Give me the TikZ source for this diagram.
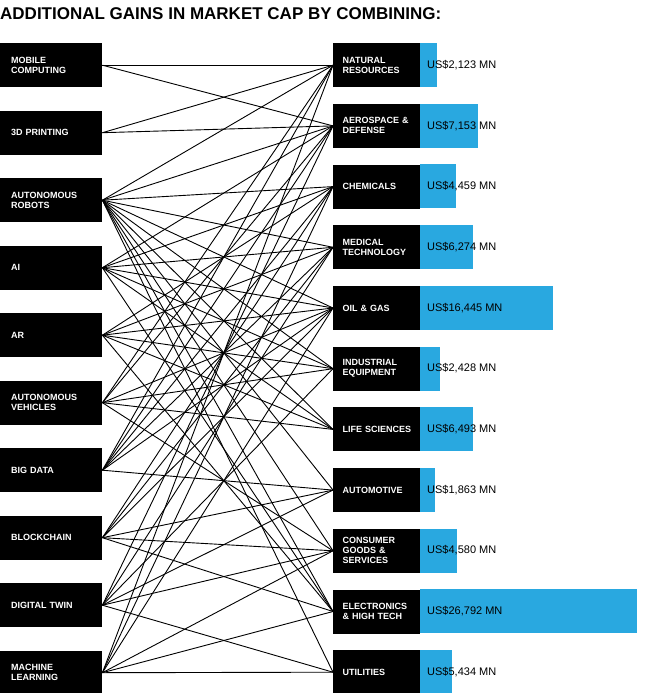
\documentclass[tikz,border=0pt]{standalone}
\usepackage{fontspec}
\setmainfont{Liberation Sans}
\definecolor{barblue}{HTML}{29A8E0}
\begin{document}
\begin{tikzpicture}[x=1pt,y=-1pt,
  lbox/.style={fill=black,text=white,minimum width=102pt,minimum height=44pt,inner sep=0pt,anchor=north west,align=left,text width=92pt,font=\bfseries\fontsize{9}{10}\selectfont},
  rbox/.style={fill=black,text=white,minimum width=87pt,minimum height=44pt,inner sep=0pt,anchor=north west,align=left,text width=80pt,font=\bfseries\fontsize{9}{10}\selectfont},
  bar/.style={fill=barblue,draw=none},
  val/.style={anchor=west,font=\fontsize{11}{12}\selectfont,inner sep=0pt},
  link/.style={line width=0.9pt,black}]
\useasboundingbox (0,0) rectangle (645,693);
\node[anchor=north west,inner sep=0pt,font=\bfseries\fontsize{17}{18}\selectfont] (title) at (0,7) {ADDITIONAL GAINS IN MARKET CAP BY COMBINING:};
% left boxes
\foreach \n/\t [count=\i from 0] in {mob/MOBILE\\COMPUTING,tdp/3D PRINTING,rob/AUTONOMOUS\\ROBOTS,ai/AI,ar/AR/VR,av/AUTONOMOUS\\VEHICLES,bd/BIG DATA,bc/BLOCKCHAIN,dt/DIGITAL TWIN,ml/MACHINE\\LEARNING}{
  \node[lbox] (\n) at (0,{43+67.5*\i}) {\hspace*{6pt}\parbox{86pt}{\t}};
}
% right boxes with bars
\foreach \n/\t/\e/\v [count=\i from 0] in {nr/NATURAL\\RESOURCES/437/2{,}123,ad/AEROSPACE \&\\DEFENSE/478/7{,}153,ch/CHEMICALS/456/4{,}459,md/MEDICAL\\TECHNOLOGY/473/6{,}274,og/OIL \& GAS/553/16{,}445,ie/INDUSTRIAL\\EQUIPMENT/440/2{,}428,ls/LIFE SCIENCES/473/6{,}493,au/AUTOMOTIVE/435/1{,}863,cg/CONSUMER\\GOODS \&\\SERVICES/457/4{,}580,el/ELECTRONICS\\\& HIGH TECH/637/26{,}792,ut/UTILITIES/452/5{,}434}{
  \pgfmathsetmacro{\yy}{43+60.7*\i}
  \fill[bar] (420,\yy) rectangle (\e,\yy+44);
  \node[rbox] (\n) at (333,\yy) {\hspace*{6pt}\parbox{78pt}{\t}};
  \node[val] (v\n) at (427,\yy+22) {US\$\v\ MN};
}
% links
\foreach \a/\b in {
 mob/nr,mob/ad,tdp/nr,tdp/ad,
 rob/nr,rob/ad,rob/ch,rob/md,rob/og,rob/ie,rob/ls,rob/au,rob/cg,rob/el,rob/ut,
 ai/ad,ai/ch,ai/md,ai/og,ai/ie,ai/ls,ai/el,
 ar/ch,ar/md,ar/og,ar/ls,ar/ie,ar/el,
 av/nr,av/ad,av/og,av/ie,av/ls,av/cg,
 bd/nr,bd/ad,bd/ch,bd/md,bd/og,bd/au,
 bc/ch,bc/md,bc/og,bc/au,bc/cg,bc/el,
 dt/ad,dt/md,dt/ie,dt/au,dt/cg,dt/ut,
 ml/nr,ml/ch,ml/og,ml/cg,ml/el,ml/ut}{
  \draw[link] (\a.east) -- (\b.west);
}
\end{tikzpicture}
\end{document}
